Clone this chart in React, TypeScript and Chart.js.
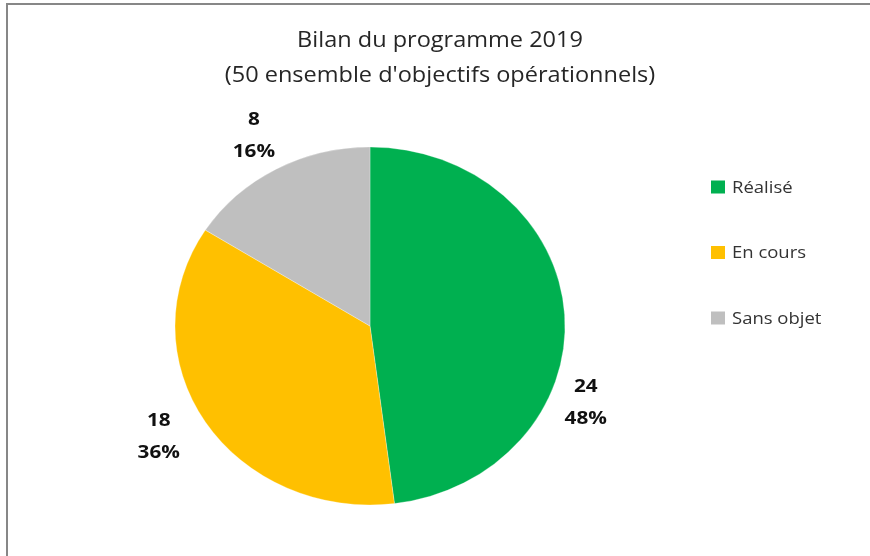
import React, { useEffect, useRef } from "react";
import { Chart, registerables } from "chart.js";

Chart.register(...registerables);

const categories = ["Réalisé", "En cours", "Sans objet"];
const values = [24, 18, 8];
const sliceColors = ["#00B050", "#FFC000", "#BFBFBF"];
const titleLines = ["Bilan du programme 2019", "(50 ensemble d'objectifs opérationnels)"];
// angular shift (degrees) of each data label from the slice's mid-angle, and its distance outside the pie
const labelAngleShift = [24.5, 3.2, -0.8];
const labelDistance = [36, 47, 40];

const FONT = "'Open Sans', 'DejaVu Sans', sans-serif";
const Y_SCALE = 179 / 195;
const X_STRETCH = 1.12;
const PIE_RADIUS = 195;

function stretchedText(ctx: CanvasRenderingContext2D, text: string, x: number, y: number) {
  ctx.save();
  ctx.translate(x, y);
  ctx.scale(X_STRETCH, 1);
  ctx.fillText(text, 0, 0);
  ctx.restore();
}

const ellipsePlugin = {
  id: "ellipse",
  beforeDatasetsDraw(chart: any) {
    const arc = chart.getDatasetMeta(0).data[0];
    if (!arc) return;
    const ctx = chart.ctx;
    ctx.save();
    ctx.translate(arc.x, arc.y);
    ctx.scale(1, Y_SCALE);
    ctx.translate(-arc.x, -arc.y);
  },
  afterDatasetsDraw(chart: any) {
    chart.ctx.restore();
  },
};

const titlePlugin = {
  id: "customTitle",
  afterDraw(chart: any) {
    const ctx = chart.ctx;
    ctx.save();
    ctx.font = `21px ${FONT}`;
    ctx.fillStyle = "#262626";
    ctx.textAlign = "center";
    ctx.textBaseline = "middle";
    titleLines.forEach((line, i) => stretchedText(ctx, line, 440, 41 + i * 35));
    ctx.restore();
  },
};

const labelPlugin = {
  id: "sliceLabels",
  afterDatasetsDraw(chart: any) {
    const ctx = chart.ctx;
    const meta = chart.getDatasetMeta(0);
    const data = chart.data.datasets[0].data as number[];
    const total = data.reduce((a, b) => a + b, 0);
    ctx.save();
    ctx.font = `bold 18.5px ${FONT}`;
    ctx.fillStyle = "#111";
    ctx.textAlign = "center";
    ctx.textBaseline = "middle";
    meta.data.forEach((arc: any, i: number) => {
      const p = arc.getProps(["x", "y", "startAngle", "endAngle", "outerRadius"], true);
      const mid = (p.startAngle + p.endAngle) / 2 + (labelAngleShift[i] * Math.PI) / 180;
      const rx = p.outerRadius + labelDistance[i];
      const ry = p.outerRadius * Y_SCALE + labelDistance[i];
      const lx = p.x + rx * Math.cos(mid);
      const ly = p.y + ry * Math.sin(mid);
      stretchedText(ctx, String(data[i]), lx, ly - 16);
      stretchedText(ctx, Math.round((data[i] / total) * 100) + "%", lx, ly + 16);
    });
    ctx.restore();
  },
};

const legendPlugin = {
  id: "customLegend",
  afterDraw(chart: any) {
    const ctx = chart.ctx;
    const labels = chart.data.labels as string[];
    const colors = chart.data.datasets[0].backgroundColor as string[];
    ctx.save();
    ctx.font = `16.5px ${FONT}`;
    ctx.textAlign = "left";
    ctx.textBaseline = "middle";
    labels.forEach((lab, i) => {
      const cy = 187 + i * 65.5;
      ctx.fillStyle = colors[i];
      ctx.fillRect(711, cy - 6.5, 14, 13);
      ctx.fillStyle = "#333";
      stretchedText(ctx, lab, 732, cy + 1);
    });
    ctx.restore();
  },
};

export default function App() {
  const ref = useRef<HTMLCanvasElement>(null);
  useEffect(() => {
    document.body.style.margin = "0";
    const chart = new Chart(ref.current!, {
      type: "pie",
      data: {
        labels: categories,
        datasets: [
          {
            data: values,
            backgroundColor: sliceColors,
            borderColor: "rgba(255,255,255,0.6)",
            borderWidth: 0.5,
            clip: false as any,
          },
        ],
      },
      options: {
        responsive: false,
        animation: false,
        radius: PIE_RADIUS,
        layout: { padding: { left: 20, right: 150, top: 103.5, bottom: 7.5 } },
        plugins: {
          legend: { display: false },
          tooltip: { enabled: false },
          title: { display: false },
        },
      } as any,
      plugins: [ellipsePlugin, labelPlugin, legendPlugin, titlePlugin],
    });
    return () => chart.destroy();
  }, []);

  return (
    <div style={{ position: "relative", width: 870, height: 556, background: "#fff" }}>
      <canvas ref={ref} width={870} height={556} style={{ position: "absolute", left: 0, top: 0 }} />
      <div
        style={{
          position: "absolute",
          left: 6,
          top: 3,
          right: 0,
          bottom: 0,
          borderTop: "2px solid #878787",
          borderLeft: "2px solid #878787",
          pointerEvents: "none",
        }}
      />
    </div>
  );
}
